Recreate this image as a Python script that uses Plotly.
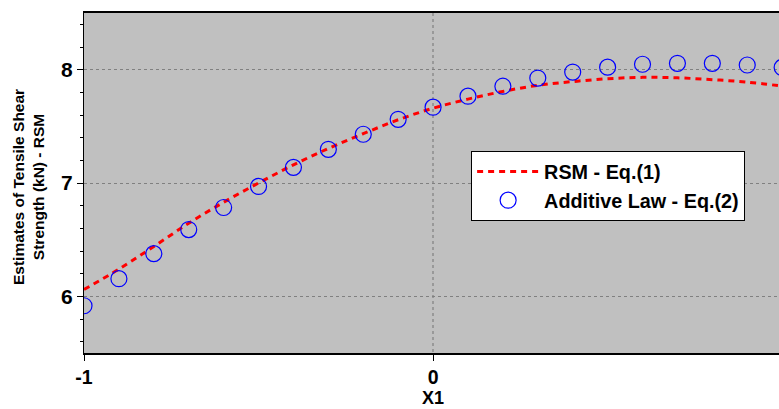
import plotly.graph_objects as go

x_vals = [-1.0, -0.9, -0.8, -0.7, -0.6, -0.5, -0.4, -0.3, -0.2, -0.1, 0.0,
          0.1, 0.2, 0.3, 0.4, 0.5, 0.6, 0.7, 0.8, 0.9, 1.0]
rsm_vals = [6.06, 6.24, 6.44, 6.645, 6.83, 7.0, 7.16, 7.305, 7.435, 7.558, 7.66,
            7.74, 7.808, 7.862, 7.895, 7.92, 7.932, 7.928, 7.912, 7.89, 7.855]
additive_vals = [5.917, 6.156, 6.377, 6.589, 6.784, 6.97, 7.138, 7.297, 7.43, 7.562, 7.669,
                 7.766, 7.854, 7.926, 7.979, 8.022, 8.048, 8.056, 8.056, 8.041, 8.02]

x_tickvals = [-1, 0, 1]
y_tickvals = [6, 7, 8]

FONT = "Liberation Sans, Arial, sans-serif"

fig = go.Figure()
fig.add_trace(go.Scatter(
    x=x_vals, y=rsm_vals, mode="lines", name="RSM - Eq.(1)",
    line=dict(color="#ff0000", width=3, dash="6px,5px", shape="spline"),
))
fig.add_trace(go.Scatter(
    x=x_vals, y=additive_vals, mode="markers", name="Additive Law - Eq.(2)",
    marker=dict(symbol="circle-open", size=16, color="#0000ff", line=dict(width=1.2, color="#0000ff")),
))

fig.update_layout(
    width=779, height=409,
    margin=dict(l=84, r=0, t=13, b=56),
    paper_bgcolor="white",
    plot_bgcolor="#c0c0c0",
    font=dict(family=FONT, color="black"),
    showlegend=True,
    legend=dict(
        x=0.557, y=0.594, xanchor="left", yanchor="top",
        bgcolor="white", bordercolor="black", borderwidth=1,
        font=dict(family=FONT, size=19.8, color="black", weight="bold"),
        itemwidth=62,
    ),
    annotations=[
        dict(text="Estimates of Tensile Shear<br>Strength (kN) - RSM",
             xref="paper", yref="paper", x=0, y=0.5, xanchor="center", yanchor="middle",
             xshift=-56, yshift=-4, textangle=-90, showarrow=False,
             font=dict(family=FONT, size=15.5, color="black", weight="bold")),
        dict(text="X1", xref="x", yref="paper", x=0, y=0, xanchor="center", yanchor="middle",
             yshift=-45, showarrow=False,
             font=dict(family=FONT, size=18, color="black", weight="bold")),
    ],
)

fig.update_xaxes(
    range=[-1, 0.991], automargin=False,
    tickvals=x_tickvals, ticktext=[str(v) for v in x_tickvals],
    ticks="outside", ticklen=6, tickcolor="black", tickwidth=1,
    showline=True, linecolor="black", linewidth=2, mirror=True,
    showgrid=True, gridcolor="#999999", griddash="3px,3px", gridwidth=2,
    zeroline=False,
    tickfont=dict(family=FONT, size=19.5, color="black", weight="bold"),
)
fig.update_yaxes(
    range=[5.5, 8.5], automargin=False,
    tickvals=y_tickvals,
    ticks="outside", ticklen=6, tickcolor="black", tickwidth=1,
    minor=dict(dtick=0.2, tick0=5.6, ticks="outside", ticklen=3, tickcolor="black", showgrid=False),
    showline=True, linecolor="black", linewidth=1, mirror=False,
    showgrid=True, gridcolor="#808080", griddash="3px,3px", gridwidth=1,
    zeroline=False,
    tickfont=dict(family=FONT, size=21, color="black", weight="bold"),
)

fig.write_html(
    "out.html",
    config=dict(displayModeBar=False),
    post_script="document.body.style.margin='0px';document.body.style.overflow='hidden';",
)
